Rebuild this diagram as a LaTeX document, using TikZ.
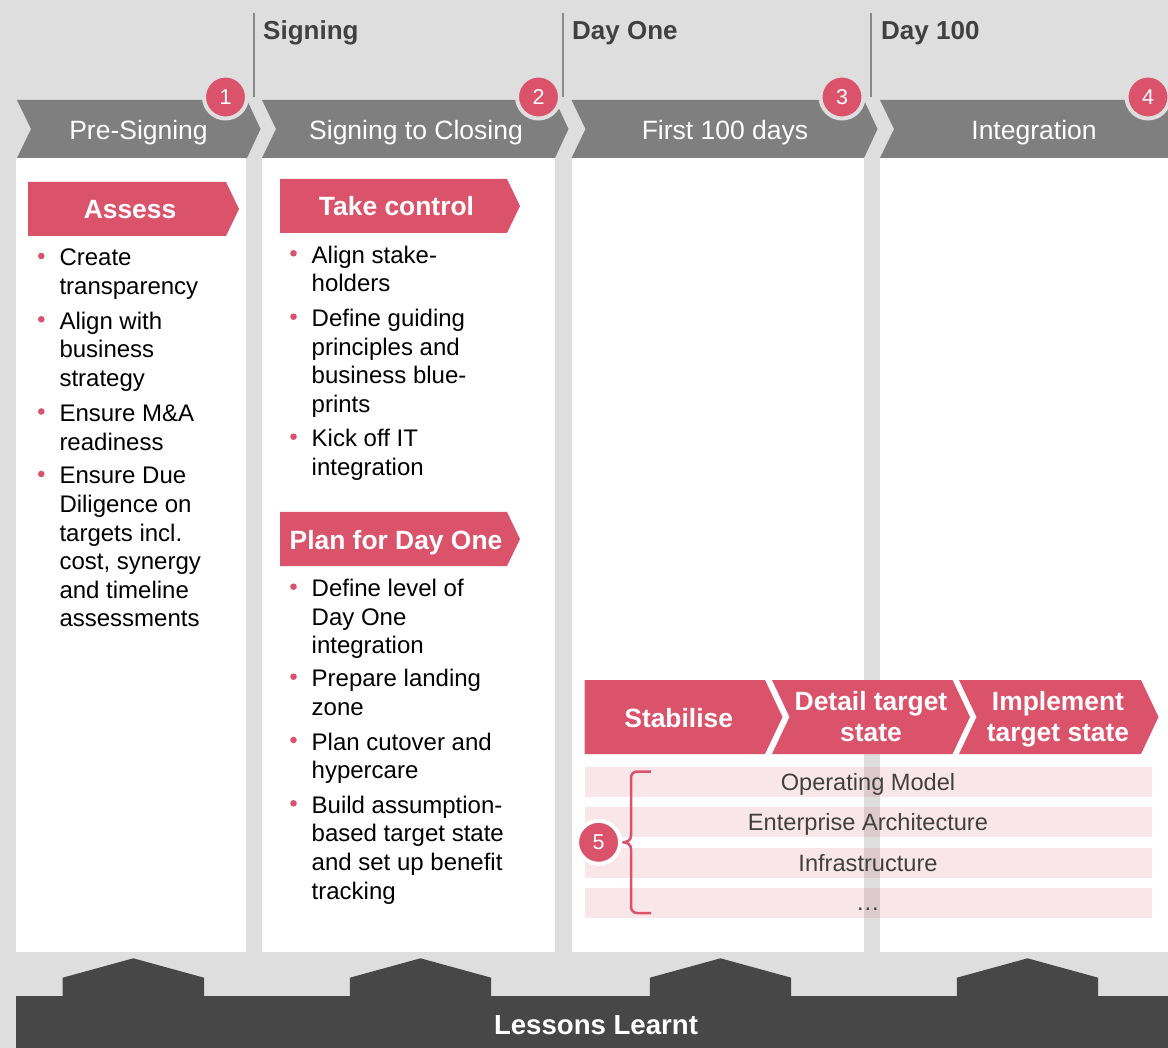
\documentclass[tikz,border=0pt]{standalone}
\usepackage{fontspec}
\setmainfont{Liberation Sans}

\definecolor{bg}{HTML}{DEDEDE}
\definecolor{phase}{HTML}{7F7F7F}
\definecolor{accent}{HTML}{DB536A}
\definecolor{ink}{HTML}{404040}
\definecolor{basebar}{HTML}{474747}
\definecolor{divider}{HTML}{8A8A8A}

% multi-line text whose baseline is the first line
\newcommand{\stackl}[1]{\begin{tabular}[t]{@{}l@{}}#1\end{tabular}}
\newcommand{\stackc}[1]{\begin{tabular}[t]{@{}c@{}}#1\end{tabular}}

% bullet point: name, x of text, baseline of first line, lines
\newcommand{\bulletitem}[4]{%
  \fill[accent] (#2-18,#3-10) circle (3.3pt);
  \node[item] (#1) at (#2,#3) {\stackl{#4}};}

\begin{document}
\begin{tikzpicture}[x=1pt,y=-1pt,
  milestone/.style={anchor=base west, inner sep=0, text=ink, font=\bfseries\fontsize{26}{30}\selectfont},
  phasetext/.style={anchor=base, inner sep=0, text=white, font=\fontsize{26.5}{30}\selectfont},
  bannertext/.style={anchor=base, inner sep=0, text=white, font=\bfseries\fontsize{26.4}{31}\selectfont},
  item/.style={anchor=base west, inner sep=0, text=black, font=\fontsize{24}{28.6}\selectfont},
  badge/.style={circle, fill=accent, draw=#1, line width=4pt, minimum size=43pt, inner sep=0,
    text=white, font=\fontsize{21.5}{24}\selectfont},
  strip/.style={fill=accent, fill opacity=0.14},
  rowtext/.style={anchor=base, inner sep=0, text=ink, font=\fontsize{23.6}{28}\selectfont},
  banner/.style={fill=accent},
]
\useasboundingbox (0,0) rectangle (1168,1048);
\clip (0,0) rectangle (1168,1048);
\fill[bg] (0,0) rectangle (1168,1048);

% white phase panels
\foreach \lx/\rx in {16.4/246, 262/555, 571.5/864, 880/1168}
  \fill[white] (\lx,158) rectangle (\rx,952);

% milestone dividers and labels
\foreach \x in {254,563,871}
  \draw[divider, line width=1.3pt] (\x,13) -- (\x,97);
\node[milestone] (signing) at (263,39.5) {Signing};
\node[milestone] (dayone) at (572,39.5) {Day One};
\node[milestone] (day100) at (881,39.5) {Day 100};

% phase chevrons
\foreach \lx/\rx in {17/247, 262/555, 571.5/864, 880/1175}
  \fill[phase] (\lx,100) -- (\rx,100) -- (\rx+13.5,129) -- (\rx,158) -- (\lx,158) -- (\lx+14,129) -- cycle;
\node[phasetext] (presign) at (138.5,139.5) {Pre-Signing};
\node[phasetext] (sigclose) at (416,139.5) {Signing to Closing};
\node[phasetext] (first100) at (725,139.5) {First 100 days};
\node[phasetext] (integr) at (1034,139.5) {Integration};

% phase badges
\node[badge=bg] (b1) at (225.5,97) {\raisebox{-1pt}{1}};
\node[badge=bg] (b2) at (538.5,97) {\raisebox{-1pt}{2}};
\node[badge=bg] (b3) at (842,97) {\raisebox{-1pt}{3}};
\node[badge=bg] (b4) at (1148,97) {\raisebox{-1pt}{4}};

% column 1
\fill[banner] (28,182) -- (226,182) -- (239,209) -- (226,236) -- (28,236) -- cycle;
\node[bannertext] (assess) at (130,218.5) {Assess};
\bulletitem{a1}{59.3}{266}{Create\\transparency}
\bulletitem{a2}{59.3}{329.3}{Align with\\business\\strategy}
\bulletitem{a3}{59.3}{421.5}{Ensure M\&A\\readiness}
\bulletitem{a4}{59.3}{484}{Ensure Due\\Diligence on\\targets incl.\\cost, synergy\\and timeline\\assessments}

% column 2
\fill[banner] (280,179) -- (507,179) -- (520,206) -- (507,233) -- (280,233) -- cycle;
\node[bannertext] (takectl) at (396.5,215.7) {Take control};
\bulletitem{t1}{311.5}{263.3}{Align stake-\\holders}
\bulletitem{t2}{311.5}{326.7}{Define guiding\\principles and\\business blue-\\prints}
\bulletitem{t3}{311.5}{446.7}{Kick off IT\\integration}

\fill[banner] (280,512) -- (507,512) -- (520,539) -- (507,566) -- (280,566) -- cycle;
\node[bannertext] (planday1) at (396,549.3) {Plan for Day One};
\bulletitem{p1}{311.5}{596.7}{Define level of\\Day One\\integration}
\bulletitem{p2}{311.5}{686.7}{Prepare landing\\zone}
\bulletitem{p3}{311.5}{750}{Plan cutover and\\hypercare}
\bulletitem{p4}{311.5}{813.3}{Build assumption-\\based target state\\and set up benefit\\tracking}

% post-closing stages
\fill[banner] (584.5,680) -- (765,680) -- (782.5,717) -- (765,754) -- (584.5,754) -- cycle;
\fill[banner] (772,680) -- (952.5,680) -- (970,717) -- (952.5,754) -- (772,754) -- (789.5,717) -- cycle;
\fill[banner] (959,680) -- (1141,680) -- (1158.5,717) -- (1141,754) -- (959,754) -- (976.5,717) -- cycle;
\node[bannertext] (stab) at (678.7,727.3) {Stabilise};
\node[bannertext] (detail) at (871,710.7) {\stackc{Detail target\\state}};
\node[bannertext] (implement) at (1058,710.7) {\stackc{Implement\\target state}};

% workstream rows
\foreach \t in {766.7, 806.7, 847.7, 888.3}
  \fill[strip] (584.5,\t) rectangle (1151.6,\t+30);
\node[rowtext] (opmodel) at (868,790.7) {Operating Model};
\node[rowtext] (entarch) at (868,830.7) {Enterprise Architecture};
\node[rowtext] (infra) at (868,871) {Infrastructure};
\node[rowtext] (more) at (868,910.7) {…};

% brace grouping the rows
\draw[accent, line width=2.5pt, line join=round]
  (651,771.5) -- (637,771.5) to[out=180,in=90] (631,777.5) -- (631,836)
  to[out=-90,in=0] (623,842.3) to[out=0,in=90] (631,848.6) -- (631,907)
  to[out=-90,in=180] (637,913) -- (651,913);
\node[badge=white] (b5) at (598.6,842.3) {5};

% lessons learnt foundation
\foreach \cx in {133.3, 420.5, 720.5, 1027.5}
  \fill[basebar] (\cx-70.7,997) -- (\cx-70.7,977.7) -- (\cx,958.3) -- (\cx+70.7,977.7) -- (\cx+70.7,997) -- cycle;
\fill[basebar] (16.4,996) rectangle (1168,1048);
\node[anchor=base, inner sep=0, text=white, font=\bfseries\fontsize{27.6}{30}\selectfont] (lessons) at (596,1034) {Lessons Learnt};
\end{tikzpicture}
\end{document}
